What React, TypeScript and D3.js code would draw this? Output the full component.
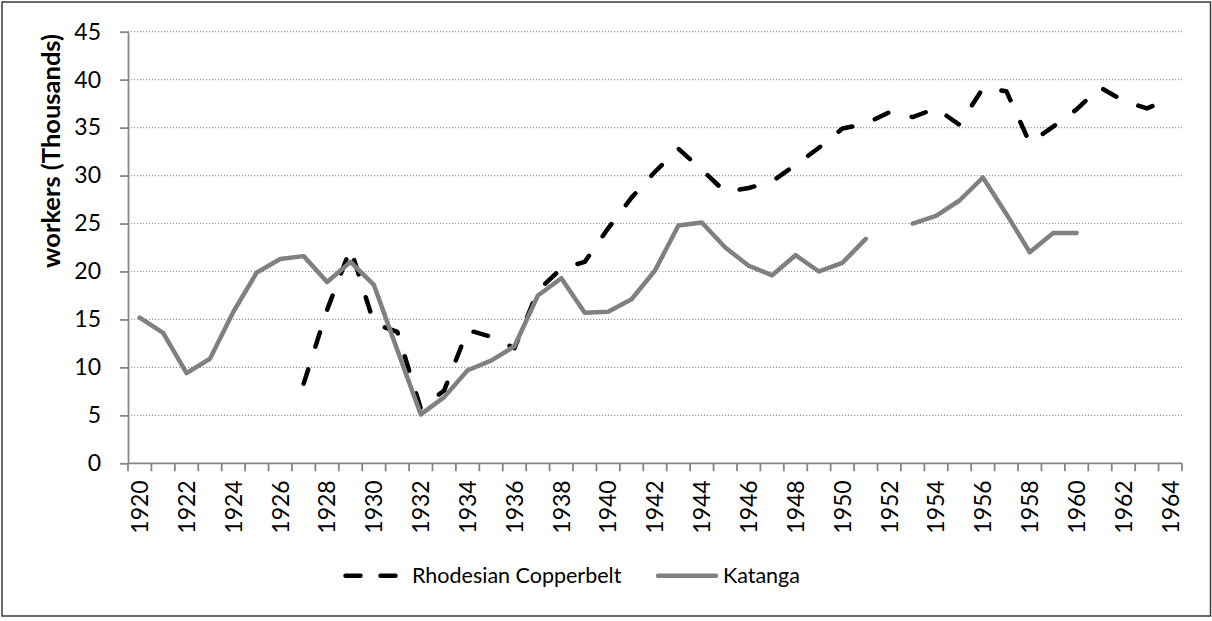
import React, { useEffect, useRef } from "react";
import * as d3 from "d3";

const years = [
    1920, 1921, 1922, 1923, 1924, 1925, 1926, 1927, 1928, 1929,
    1930, 1931, 1932, 1933, 1934, 1935, 1936, 1937, 1938, 1939,
    1940, 1941, 1942, 1943, 1944, 1945, 1946, 1947, 1948, 1949,
    1950, 1951, 1952, 1953, 1954, 1955, 1956, 1957, 1958, 1959,
    1960, 1961, 1962, 1963, 1964,
];

// every other year gets a label
const yearLabels = [
    1920, 1922, 1924, 1926, 1928, 1930, 1932, 1934, 1936, 1938, 1940, 1942,
    1944, 1946, 1948, 1950, 1952, 1954, 1956, 1958, 1960, 1962, 1964,
];

const copperbelt = [
    null, null, null, null, null, null, null, 8.3, 16.0, 22.4,
    14.6, 13.7, 5.7, 7.6, 13.9, 13.2, 12.0, 18.0, 20.3, 21.0,
    24.5, 27.7, 30.4, 32.8, 30.6, 28.3, 28.7, 29.4, 31.1, 32.9,
    34.9, 35.4, 36.6, 36.1, 37.0, 35.3, 39.1, 38.8, 33.4, 35.1,
    36.9, 39.2, 37.8, 37.0, 38.0,
];

const katanga = [
    15.2, 13.6, 9.4, 10.9, 15.8, 19.9, 21.3, 21.6, 18.9, 21.0,
    18.6, 11.8, 5.1, 6.9, 9.7, 10.7, 12.2, 17.5, 19.3, 15.7,
    15.8, 17.1, 20.1, 24.8, 25.1, 22.5, 20.6, 19.6, 21.7, 20.0,
    20.9, 23.4, null, 25.0, 25.8, 27.4, 29.8, 26.0, 22.0, 24.0,
    24.0, null, null, null, null,
];

const yTicks = [0, 5, 10, 15, 20, 25, 30, 35, 40, 45];

const seriesNames = ["Rhodesian Copperbelt", "Katanga"];

const width = 1212;
const height = 621;
const plotLeft = 128;
const plotRight = 1182;
const plotTop = 31.7;
const plotBottom = 463.3;
const font = "Lato, 'Open Sans', sans-serif";
const axisColor = "#868686";

const App = () => {
    const ref = useRef(null);

    useEffect(() => {
        const svg = d3.select(ref.current);
        svg.selectAll("*").remove();

        const x = d3.scaleBand().domain(years.map(String)).range([plotLeft, plotRight]);
        const y = d3.scaleLinear().domain([0, 45]).range([plotBottom, plotTop]);
        const cx = (i) => x(String(years[i])) + x.bandwidth() / 2;

        // outer frame
        svg.append("rect")
            .attr("x", 2)
            .attr("y", 2)
            .attr("width", 1208.5)
            .attr("height", 614)
            .attr("fill", "#fff")
            .attr("stroke", "#3c3c3c")
            .attr("stroke-width", 1.5);

        // dotted gridlines
        svg.append("g")
            .selectAll("line")
            .data(yTicks.filter(t => t > 0))
            .enter()
            .append("line")
            .attr("x1", plotLeft)
            .attr("x2", plotRight)
            .attr("y1", d => y(d))
            .attr("y2", d => y(d))
            .attr("stroke", "#9a9a9a")
            .attr("stroke-width", 1.2)
            .attr("stroke-dasharray", "1.2,1.8");

        // y axis
        const yAxis = svg.append("g")
            .attr("transform", `translate(${plotLeft},0)`)
            .call(d3.axisLeft(y).tickValues(yTicks).tickSize(8).tickSizeOuter(0).tickPadding(19));
        yAxis.select(".domain").attr("stroke", axisColor).attr("stroke-width", 1.8);
        yAxis.selectAll(".tick line").attr("stroke", axisColor).attr("stroke-width", 1.8);
        yAxis.selectAll(".tick text")
            .attr("font-family", font)
            .attr("font-size", 23)
            .attr("fill", "#000");

        // x axis: ticks on band edges, labels in band centres
        const edges = years.map(d => x(String(d))).concat([plotRight]);
        const xAxis = svg.append("g");
        xAxis.append("line")
            .attr("x1", plotLeft)
            .attr("x2", plotRight)
            .attr("y1", plotBottom)
            .attr("y2", plotBottom)
            .attr("stroke", axisColor)
            .attr("stroke-width", 1.8);
        xAxis.selectAll("line.tick")
            .data(edges)
            .enter()
            .append("line")
            .attr("class", "tick")
            .attr("x1", d => d)
            .attr("x2", d => d)
            .attr("y1", plotBottom)
            .attr("y2", plotBottom + 8)
            .attr("stroke", axisColor)
            .attr("stroke-width", 1.8);
        xAxis.selectAll("text")
            .data(yearLabels)
            .enter()
            .append("text")
            .attr("transform", d => `translate(${x(String(d)) + x.bandwidth() / 2},${plotBottom + 17}) rotate(-90)`)
            .attr("text-anchor", "end")
            .attr("dy", "0.36em")
            .attr("font-family", font)
            .attr("font-size", 23)
            .text(d => d);

        // y title
        svg.append("text")
            .attr("transform", "translate(51,151) rotate(-90)")
            .attr("text-anchor", "middle")
            .attr("dy", "0.36em")
            .attr("font-family", font)
            .attr("font-weight", "bold")
            .attr("font-size", 25.5)
            .text("workers (Thousands)");

        // series
        const line = d3.line()
            .defined(d => d[1] != null)
            .x(d => cx(d[0]))
            .y(d => y(d[1]));

        const cbPath = svg.append("path")
            .datum(copperbelt.map((v, i) => [i, v]))
            .attr("d", line)
            .attr("fill", "none")
            .attr("stroke", "#000")
            .attr("stroke-width", 4.5)
            .attr("stroke-linecap", "round")
            .attr("stroke-linejoin", "round");

        // stretch the dash period a little so the last dash stops just past 1963, as in the original
        const total = cbPath.node().getTotalLength();
        const last = copperbelt.length - 1;
        const lastSeg = Math.hypot(cx(last) - cx(last - 1), y(copperbelt[last]) - y(copperbelt[last - 1]));
        const dashEnd = total - lastSeg + 6;
        const n = Math.round((dashEnd - 15) / 39);
        const period = (dashEnd - 15) / n;
        cbPath.attr("stroke-dasharray", `15,${period - 15}`);

        svg.append("path")
            .datum(katanga.map((v, i) => [i, v]))
            .attr("d", line)
            .attr("fill", "none")
            .attr("stroke", "#808080")
            .attr("stroke-width", 4.5)
            .attr("stroke-linecap", "round")
            .attr("stroke-linejoin", "round");

        // legend
        const legend = svg.append("g").attr("transform", "translate(0,575.7)");
        legend.append("line")
            .attr("x1", 345.5)
            .attr("x2", 395.5)
            .attr("stroke", "#000")
            .attr("stroke-width", 4.5)
            .attr("stroke-linecap", "round")
            .attr("stroke-dasharray", "15,20");
        legend.append("text")
            .attr("x", 412)
            .attr("dy", "0.36em")
            .attr("font-family", font)
            .attr("font-size", 21.5)
            .text(seriesNames[0]);
        legend.append("line")
            .attr("x1", 658)
            .attr("x2", 716)
            .attr("stroke", "#808080")
            .attr("stroke-width", 4.5)
            .attr("stroke-linecap", "round");
        legend.append("text")
            .attr("x", 723)
            .attr("dy", "0.36em")
            .attr("font-family", font)
            .attr("font-size", 21.5)
            .text(seriesNames[1]);
    }, []);

    return (
        <svg
            ref={ref}
            width={width}
            height={height}
            style={{position: "absolute", left: 0, top: 0}}
        />
    );
};

export default App;
